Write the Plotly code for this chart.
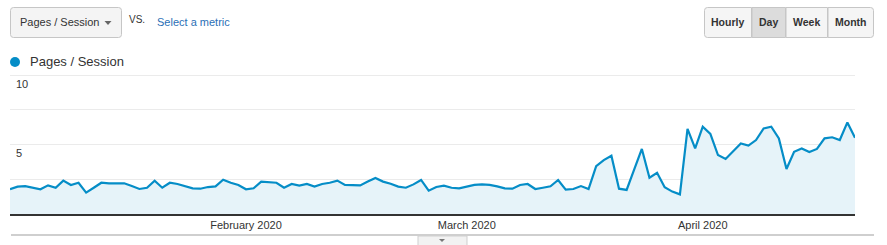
import pandas as pd
import plotly.graph_objects as go

# ---------------- data ----------------
start_date = "2020-01-01"
end_date = "2020-04-21"
pages_per_session = [
    1.78, 1.97, 2.01, 1.89, 1.78, 2.06, 1.89, 2.40, 2.09, 2.25,
    1.54, 1.89, 2.25, 2.21, 2.23, 2.21, 2.01, 1.80, 1.89, 2.40,
    1.89, 2.25, 2.16, 1.99, 1.85, 1.82, 1.94, 1.99, 2.47, 2.25,
    2.09, 1.78, 1.85, 2.33, 2.28, 2.25, 1.89, 2.16, 2.04, 2.16,
    1.97, 2.16, 2.25, 2.40, 2.09, 2.06, 2.06, 2.33, 2.59, 2.33,
    2.18, 1.97, 1.89, 2.13, 2.45, 1.68, 1.94, 2.04, 1.89, 1.85,
    1.99, 2.09, 2.13, 2.09, 1.99, 1.85, 1.82, 2.09, 2.16, 1.80,
    1.89, 1.99, 2.45, 1.75, 1.80, 2.01, 1.80, 3.45, 3.88, 4.19,
    1.82, 1.73, 3.21, 4.68, 2.61, 2.97, 1.92, 1.61, 1.41, 6.12,
    4.72, 6.28, 5.76, 4.24, 3.96, 4.53, 5.08, 4.92, 5.32, 6.16,
    6.28, 5.44, 3.24, 4.48, 4.72, 4.46, 4.68, 5.44, 5.52, 5.32,
    6.59, 5.49,
]
dates = pd.date_range(start_date, end_date, freq="D")

x_tick_vals = ["2020-02-01", "2020-03-01", "2020-04-01"]
x_tick_text = ["February 2020", "March 2020", "April 2020"]
y_tick_vals = [2.5, 5, 7.5, 10]
y_tick_text = ["", "5", "", "10"]

metric_name = "Pages / Session"
granularity_buttons = ["Hourly", "Day", "Week", "Month"]
selected_button = "Day"

# ---------------- layout helpers ----------------
W, H = 887, 245
FONT = "Liberation Sans, Arial, sans-serif"
BLUE = "#058dc7"


def fx(px):
    return px / W


def fy(py):
    return 1 - py / H


def rrect_path(x0, y0, x1, y1, r=3, rl=True, rr=True):
    pts = []
    if rl:
        pts.append(f"M{fx(x0)},{fy(y0 + r)}")
        pts.append(f"Q{fx(x0)},{fy(y0)} {fx(x0 + r)},{fy(y0)}")
    else:
        pts.append(f"M{fx(x0)},{fy(y0)}")
    if rr:
        pts.append(f"L{fx(x1 - r)},{fy(y0)}")
        pts.append(f"Q{fx(x1)},{fy(y0)} {fx(x1)},{fy(y0 + r)}")
        pts.append(f"L{fx(x1)},{fy(y1 - r)}")
        pts.append(f"Q{fx(x1)},{fy(y1)} {fx(x1 - r)},{fy(y1)}")
    else:
        pts.append(f"L{fx(x1)},{fy(y0)}")
        pts.append(f"L{fx(x1)},{fy(y1)}")
    if rl:
        pts.append(f"L{fx(x0 + r)},{fy(y1)}")
        pts.append(f"Q{fx(x0)},{fy(y1)} {fx(x0)},{fy(y1 - r)}")
    else:
        pts.append(f"L{fx(x0)},{fy(y1)}")
    pts.append("Z")
    return " ".join(pts)


fig = go.Figure()
fig.add_trace(
    go.Scatter(
        x=dates,
        y=pages_per_session,
        mode="lines",
        line=dict(color=BLUE, width=2.2),
        fill="tozeroy",
        fillcolor="#e6f3f9",
        name=metric_name,
        showlegend=False,
        hoverinfo="x+y",
    )
)

shapes = []
annotations = []

# dropdown box
shapes.append(dict(type="path", path=rrect_path(10.5, 7.5, 121.5, 37.5, 3),
                   xref="paper", yref="paper", fillcolor="#f4f4f4",
                   line=dict(color="#c6c6c6", width=1), layer="above"))
annotations.append(dict(text=metric_name, x=fx(18), y=fy(22.5), xref="paper", yref="paper",
                        xanchor="left", yanchor="middle", showarrow=False,
                        font=dict(family=FONT, size=11, color="#333333")))
shapes.append(dict(type="path",
                   path=f"M{fx(104.5)},{fy(21)} L{fx(111.5)},{fy(21)} L{fx(108)},{fy(25)} Z",
                   xref="paper", yref="paper", fillcolor="#666666", line=dict(width=0)))
annotations.append(dict(text="VS.", x=fx(127), y=fy(20), xref="paper", yref="paper",
                        xanchor="left", yanchor="middle", showarrow=False,
                        font=dict(family=FONT, size=10, color="#333333")))
annotations.append(dict(text="Select a metric", x=fx(155), y=fy(22), xref="paper", yref="paper",
                        xanchor="left", yanchor="middle", showarrow=False,
                        font=dict(family=FONT, size=11, color="#2a6fb6")))

# granularity buttons
edges = [704, 751.5, 785.5, 827.5, 874]
for i, lab in enumerate(granularity_buttons):
    x0, x1 = edges[i], edges[i + 1]
    sel = lab == selected_button
    shapes.append(dict(type="path",
                       path=rrect_path(x0 + 0.5, 7.5, x1 - 0.5 if i == 3 else x1, 37.5, 3,
                                       rl=(i == 0), rr=(i == 3)),
                       xref="paper", yref="paper",
                       fillcolor="#dcdcdc" if sel else "#f5f5f5",
                       line=dict(color="#c6c6c6", width=1)))
    annotations.append(dict(text=f"<b>{lab}</b>", x=fx((x0 + x1) / 2), y=fy(22.5),
                            xref="paper", yref="paper", xanchor="center", yanchor="middle",
                            showarrow=False,
                            font=dict(family=FONT, size=10.5, color="#333333")))

# legend
shapes.append(dict(type="circle", x0=fx(10), x1=fx(20), y0=fy(67), y1=fy(57),
                   xref="paper", yref="paper", fillcolor=BLUE, line=dict(width=0)))
annotations.append(dict(text=metric_name, x=fx(28), y=fy(62), xref="paper", yref="paper",
                        xanchor="left", yanchor="middle", showarrow=False,
                        font=dict(family=FONT, size=13, color="#333333")))

# bottom separator and tab
shapes.append(dict(type="line", x0=fx(11), x1=fx(874), y0=fy(235), y1=fy(235),
                   xref="paper", yref="paper", line=dict(color="#cfcfcf", width=2)))
shapes.append(dict(type="rect", x0=fx(418), x1=fx(467), y0=fy(236), y1=fy(246),
                   xref="paper", yref="paper", fillcolor="#f2f2f2",
                   line=dict(color="#cfcfcf", width=1)))
shapes.append(dict(type="path",
                   path=f"M{fx(439)},{fy(239)} L{fx(445)},{fy(239)} L{fx(442)},{fy(242)} Z",
                   xref="paper", yref="paper", fillcolor="#777777", line=dict(width=0)))

fig.update_layout(
    width=W,
    height=H,
    autosize=False,
    margin=dict(l=0, r=0, t=0, b=0, pad=0),
    paper_bgcolor="white",
    plot_bgcolor="white",
    showlegend=False,
    shapes=shapes,
    annotations=annotations,
    xaxis=dict(
        type="date",
        domain=[fx(10), fx(855)],
        range=[start_date, end_date],
        tickvals=x_tick_vals,
        ticktext=x_tick_text,
        showgrid=False,
        zeroline=False,
        showline=True,
        linecolor="#333333",
        linewidth=1.6,
        ticks="",
        automargin=False,
        tickfont=dict(family=FONT, size=11, color="#333333"),
        fixedrange=True,
    ),
    yaxis=dict(
        domain=[fy(214), fy(73)],
        range=[0, 10 * 141 / 139],
        tickvals=y_tick_vals,
        ticktext=y_tick_text,
        showgrid=True,
        gridcolor="#ebebeb",
        gridwidth=1,
        zeroline=False,
        showline=False,
        ticks="",
        ticklabelposition="inside",
        ticklabelshift=9,
        ticklabelstandoff=3,
        automargin=False,
        tickfont=dict(family=FONT, size=11, color="#333333"),
        fixedrange=True,
    ),
)

fig.write_html("out.html", config={"displayModeBar": False})
